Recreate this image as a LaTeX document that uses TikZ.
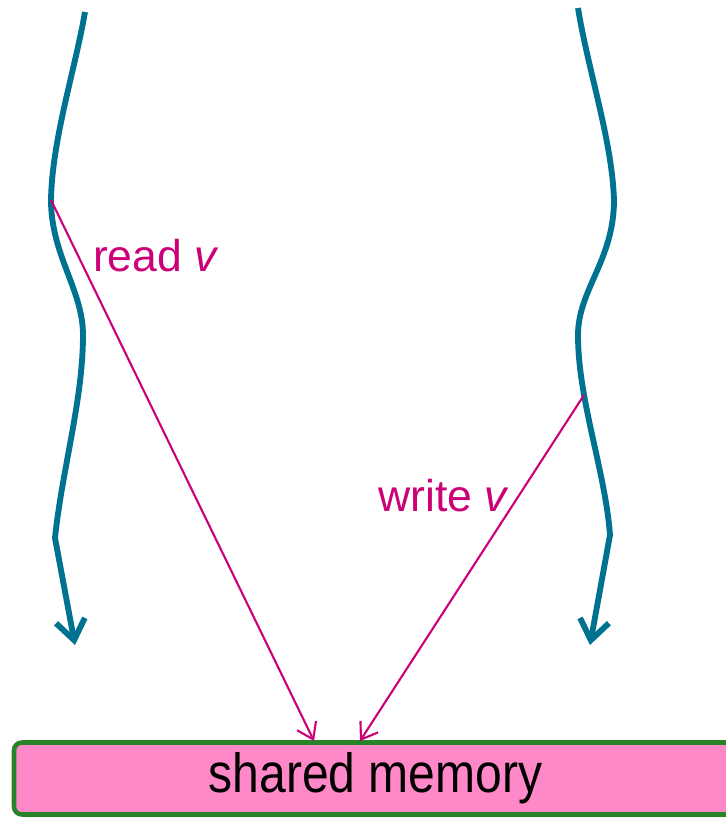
\documentclass[tikz,border=0pt]{standalone}
\usepackage{fontspec}
\setmainfont{Liberation Sans}
\usetikzlibrary{arrows.meta}
\definecolor{threadteal}{RGB}{0,114,145}
\definecolor{msgmagenta}{RGB}{204,0,119}
\definecolor{memgreen}{RGB}{40,130,40}
\definecolor{mempink}{RGB}{255,136,200}
\begin{document}
\begin{tikzpicture}[x=0.03cm, y=-0.03cm,
	thread/.style={draw=threadteal, line width=5pt, line join=round,
		-{Straight Barb[length=17pt, width=25pt, line width=5pt]}},
	msg/.style={draw=msgmagenta, line width=1.8pt,
		-{Straight Barb[length=13pt, width=18pt, line width=1.8pt]}},
	msglabel/.style={text=msgmagenta, font=\fontsize{38}{42}\selectfont},
	membox/.style={draw=memgreen, fill=mempink, line width=3.9pt, rounded corners=0.24cm,
		minimum width=21.69cm, minimum height=2.16cm, inner sep=0pt,
		font=\fontsize{41}{45}\selectfont}
	]
	\useasboundingbox (0,0) rectangle (725,817);

	% shared memory
	\node[membox] (mem) at (375.5,778.5) {\raisebox{-3pt}{\scalebox{1}[1.15]{shared memory}}};
	\coordinate (rdend) at (314,741);
	\coordinate (wrend) at (360,741);

	% the two threads
	\draw[thread] (85,12) .. controls (75,70) and (52,140) .. (51,200) coordinate (rdstart)
		.. controls (51,255) and (83,290) .. (83,335)
		.. controls (83,400) and (62,470) .. (55,538) -- (75,645) coordinate (tip1);
	\draw[thread] (578,8) .. controls (588,70) and (612,140) .. (614,200)
		.. controls (614,260) and (578,290) .. (578,335)
		.. controls (578,400) and (605,470) .. (610,535) -- (590,645) coordinate (tip2);
	\coordinate (wrstart) at (584,395);

	% read and write
	\draw[msg] (rdstart) -- (rdend);
	\draw[msg] (wrstart) -- (wrend);
	\node[msglabel] (rdlabel) at (156,256) {read \textit{v}};
	\node[msglabel] (wrlabel) at (444,496) {write \textit{v}};
\end{tikzpicture}
\end{document}
